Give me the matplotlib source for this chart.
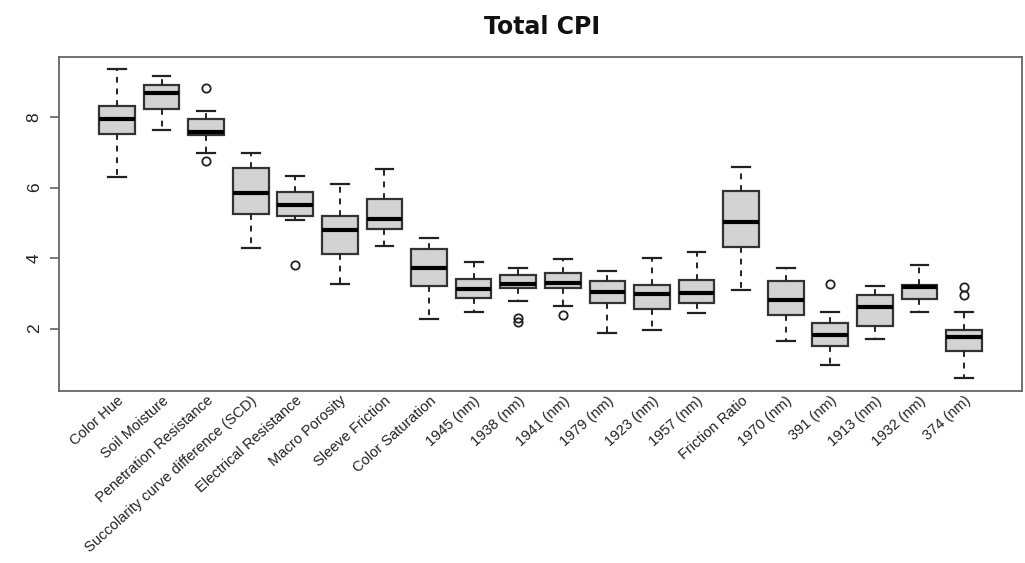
import matplotlib
matplotlib.use("Agg")
import matplotlib.pyplot as plt

plt.rcParams['font.family'] = ['Liberation Sans', 'DejaVu Sans']

labels = ["Color Hue", "Soil Moisture", "Penetration Resistance",
          "Succolarity curve difference (SCD)", "Electrical Resistance",
          "Macro Porosity", "Sleeve Friction", "Color Saturation",
          "1945 (nm)", "1938 (nm)", "1941 (nm)", "1979 (nm)", "1923 (nm)",
          "1957 (nm)", "Friction Ratio", "1970 (nm)", "391 (nm)",
          "1913 (nm)", "1932 (nm)", "374 (nm)"]

whislo = [6.31, 7.62, 6.97, 4.28, 5.08, 3.26, 4.33, 2.27, 2.48, 2.78,
          2.64, 1.88, 1.96, 2.44, 3.09, 1.66, 0.97, 1.70, 2.48, 0.59]
q1     = [7.51, 8.22, 7.49, 5.25, 5.20, 4.11, 4.83, 3.21, 2.86, 3.16,
          3.16, 2.74, 2.57, 2.72, 4.31, 2.39, 1.52, 2.06, 2.84, 1.36]
med    = [7.93, 8.67, 7.56, 5.84, 5.50, 4.80, 5.11, 3.71, 3.12, 3.26,
          3.29, 3.05, 2.97, 3.00, 5.03, 2.80, 1.82, 2.61, 3.18, 1.76]
q3     = [8.31, 8.92, 7.93, 6.56, 5.87, 5.18, 5.68, 4.27, 3.42, 3.52,
          3.57, 3.35, 3.24, 3.38, 5.90, 3.35, 2.16, 2.95, 3.24, 1.96]
whishi = [9.35, 9.17, 8.18, 6.99, 6.34, 6.09, 6.52, 4.58, 3.89, 3.72,
          3.96, 3.64, 4.01, 4.16, 6.59, 3.71, 2.48, 3.22, 3.81, 2.47]
fliers = [[], [], [8.81, 6.75], [], [3.81], [], [], [], [], [2.31, 2.18],
          [2.39], [], [], [], [], [], [3.26], [], [], [3.19, 2.95]]

stats = []
for i in range(len(labels)):
    stats.append(dict(label=labels[i], whislo=whislo[i], q1=q1[i], med=med[i],
                      q3=q3[i], whishi=whishi[i], fliers=fliers[i]))

fig = plt.figure(figsize=(10.25, 5.63), dpi=100)
ax = fig.add_axes([59/1025, 1 - 390.7/563, (1022 - 59)/1025, (390.7 - 57)/563])

positions = list(range(1, len(labels) + 1))
ax.bxp(stats, positions=positions, widths=0.8, capwidths=0.4,
       patch_artist=True, showfliers=True,
       boxprops=dict(facecolor='#D3D3D3', edgecolor='#333333', linewidth=1.6),
       medianprops=dict(color='black', linewidth=3.0, solid_capstyle='butt'),
       whiskerprops=dict(color='#222222', linewidth=1.4, linestyle=(0, (3, 3))),
       capprops=dict(color='#222222', linewidth=1.6),
       flierprops=dict(marker='o', markerfacecolor='none', markeredgecolor='#222222',
                       markersize=6, markeredgewidth=1.3))

ax.set_xlim(-0.3, 21.3)
ax.set_ylim(0.24, 9.70)

ax.set_xticks(positions)
ax.set_xticklabels(labels, rotation=42, ha='right', rotation_mode='anchor',
                   fontsize=10.5, color='#222222')
ax.tick_params(axis='x', length=0, pad=2)

ax.set_yticks([2, 4, 6, 8])
ax.set_yticklabels(['2', '4', '6', '8'], rotation=90, va='center', fontsize=12.5,
                   color='#222222')
ax.tick_params(axis='y', length=6.5, width=1.1, color='#555555', pad=6)

for s in ax.spines.values():
    s.set_color('#666666')
    s.set_linewidth(1.3)

fig.text(542/1025, 1 - 27/563, "Total CPI", ha='center', va='center',
         fontsize=17, fontweight='bold', color='#111111', family='DejaVu Sans')

fig.savefig("out.png", dpi=100)
